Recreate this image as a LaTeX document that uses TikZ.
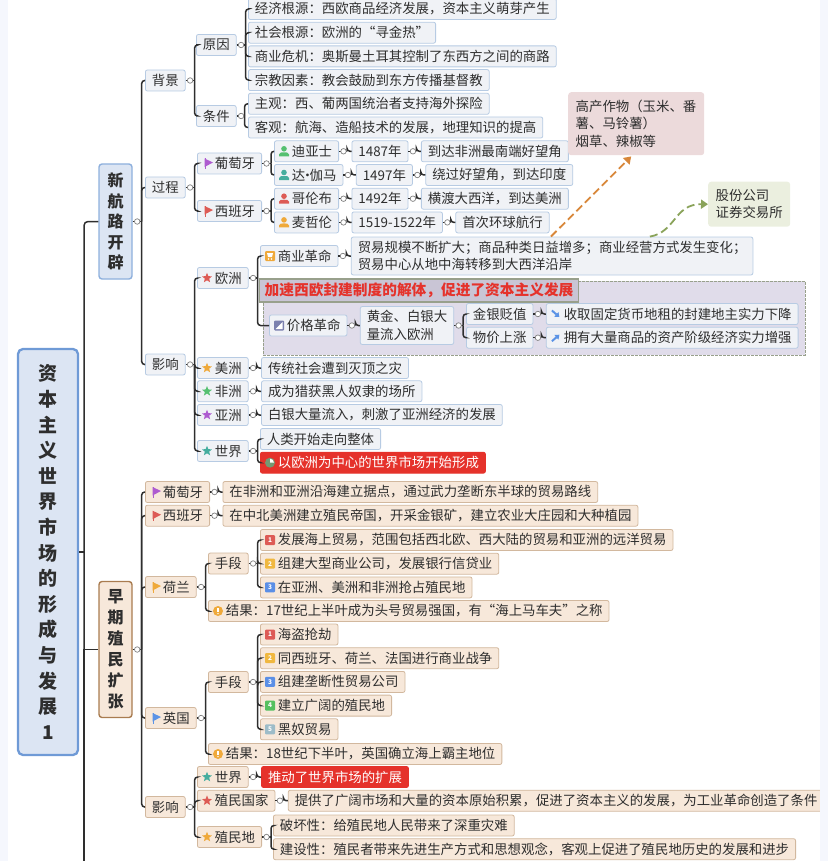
\documentclass[tikz,border=0pt]{standalone}
\usepackage{fontspec}
\setmainfont{Noto Sans CJK SC}
\usetikzlibrary{positioning,calc,arrows.meta,shapes.geometric}

\definecolor{ink}{HTML}{2E2E2E}
\definecolor{gutter}{HTML}{F5F7FD}
\definecolor{linefill}{HTML}{F0F2F6}
\definecolor{lineedge}{HTML}{B7CBE3}
\definecolor{earlyfill}{HTML}{F7E8DA}
\definecolor{earlyedge}{HTML}{D2B89E}
\definecolor{hotred}{HTML}{E5322B}
\definecolor{bandfill}{HTML}{E0DCEA}
\definecolor{bandedge}{HTML}{98A08C}
\definecolor{bandhead}{HTML}{C9C5D5}
\definecolor{rootfill}{HTML}{DCE5F3}
\definecolor{rootedge}{HTML}{6F9AD6}
\definecolor{voyageedge}{HTML}{8EB0DD}
\definecolor{colonyedge}{HTML}{A97C50}
\definecolor{cropsfill}{HTML}{ECDADB}
\definecolor{stockfill}{HTML}{EBEFDF}
\definecolor{cropsarrow}{HTML}{D8873A}
\definecolor{stockarrow}{HTML}{8AA35A}
\definecolor{tagred}{HTML}{DD5B55}
\definecolor{tagorange}{HTML}{EFA93A}
\definecolor{taggreen}{HTML}{55C070}
\definecolor{tagteal}{HTML}{45AD9E}
\definecolor{tagviolet}{HTML}{AE5BD0}
\definecolor{tagblue}{HTML}{5B93E6}
\definecolor{tagslate}{HTML}{7B80AE}
\definecolor{num1}{HTML}{DD5B55}
\definecolor{num2}{HTML}{F0B840}
\definecolor{num3}{HTML}{5B8FE6}
\definecolor{num4}{HTML}{55C060}
\definecolor{num5}{HTML}{9DBCC8}

\tikzset{
  base/.style={font=\fontsize{13.4}{17.5}\selectfont, text=ink, rounded corners=2pt, line width=.8pt,
    minimum height=21pt, inner ysep=0pt, inner xsep=6.5pt, anchor=west},
  topic/.style={base, draw=lineedge, fill=linefill},
  early/.style={base, draw=earlyedge, fill=earlyfill},
  hot/.style={base, draw=hotred, fill=hotred, text=white},
  iconic/.style={execute at begin node={\hspace{11pt}}},
  under/.style={below=1.9pt of #1.south west, anchor=north west},
  next/.style={right=12.5pt of #1},
  link/.style={draw=ink, line width=1.5pt},
  knob/.style={circle, draw=gray, fill=white, inner sep=0pt, minimum size=5.5pt, line width=.7pt},
  callout/.style={font=\fontsize{13.4}{17.5}\selectfont, text=ink, rounded corners=3pt, inner xsep=7.5pt,
    inner ysep=0pt, anchor=north west, align=left},
  flagicon/.pic={\fill[#1] (-2.5,-5) -- (6,-1) -- (-2.5,3.5) -- cycle; \fill[#1] (-2.5,-5) rectangle (-1.3,5.5);},
  staricon/.pic={\node[star, star points=5, star point ratio=2.3, fill=#1, inner sep=0pt, minimum size=10.5pt] {};},
  manicon/.pic={\fill[#1] (0,-2.5) circle (2.8pt);
    \fill[#1] (-5,5) -- (-5,3) .. controls (-5,1) and (-2,1) .. (0,1) .. controls (2,1) and (5,1) .. (5,3) -- (5,5) -- cycle;},
  numicon/.pic={\fill[num#1, rounded corners=1pt] (-5,-5) rectangle (5,5);
    \node[text=white, inner sep=0pt, font=\fontsize{6.5}{7}\selectfont\bfseries] {#1};},
  alerticon/.pic={\fill[tagorange] (0,0) circle (5pt); \fill[white] (-.7,-3.2) rectangle (.7,1); \fill[white] (0,2.6) circle (.8pt);},
  carticon/.pic={\fill[tagorange, rounded corners=1pt] (-5,-5) rectangle (5,5); \fill[white] (-3,-3) -- (3,-3) -- (2,1) -- (-2,1) -- cycle;
    \fill[white] (-1.5,3) circle (.8pt) (1.5,3) circle (.8pt);},
  photoicon/.pic={\fill[#1, rounded corners=1pt] (-5,-5) rectangle (5,5); \fill[white] (-3.5,3.5) -- (3.5,-3.5) -- (3.5,3.5) -- cycle;},
  downicon/.pic={\draw[tagblue, line width=2pt, -{Triangle[length=4pt,width=6pt]}] (-4,-3.5) -- (3.5,3);},
  upicon/.pic={\draw[tagblue, line width=2pt, -{Triangle[length=4pt,width=6pt]}] (-4,3.5) -- (3.5,-3);},
  clockicon/.pic={\fill[white!75!green!60!black] (0,0) circle (5pt); \fill[white] (0,0) -- (0,-4) arc[start angle=-90, end angle=0, radius=4pt, y radius=-4pt] -- cycle;},
}

\newcommand{\branch}[3][9]{
  \draw[link] (#2.east) -- ++(#1,0);
  \foreach \kid in {#3} \draw[link, rounded corners=3pt] ($(#2.east)+(#1,0)$) |- (\kid.west);
  \node[knob] at ($(#2.east)+(4.5,0)$) {};
}
\newcommand{\tagit}[2]{\pic at ($(#1.west)+(10,0)$) {#2};}

\begin{document}
\begin{tikzpicture}[x=1pt,y=-1pt]
  \useasboundingbox (0,0) rectangle (828,861);
  \node[minimum width=60pt, minimum height=406pt, rounded corners=5pt, draw=rootedge, fill=rootfill, line width=2.3pt,
    align=center, text=ink, font=\fontsize{19}{25.6}\selectfont\bfseries] (root) at (48,552)
    {资\\本\\主\\义\\世\\界\\市\\场\\的\\形\\成\\与\\发\\展\\1};
  \node[minimum width=33pt, minimum height=115pt, rounded corners=3pt, draw=voyageedge, fill=rootfill, line width=1.4pt,
    align=center, text=ink, font=\fontsize{16}{20.6}\selectfont\bfseries] (voyage) at (115.5,221.5)
    {新\\航\\路\\开\\辟};
  \node[minimum width=33pt, minimum height=136pt, rounded corners=3pt, draw=colonyedge, fill=earlyfill, line width=1.4pt,
    align=center, text=ink, font=\fontsize{16}{21}\selectfont\bfseries] (colony) at (115.5,649.5)
    {早\\期\\殖\\民\\扩\\张};
  \coordinate (rootend) at (84,861);

  \node[topic] (setting) at (145,80.5) {背景};
  \node[topic] (cause) at (196,45) {原因};
  \node[topic] (terms) at (196,116) {条件};
  \node[topic] (econ) at (248,9) {经济根源：西欧商品经济发展，资本主义萌芽产生};
  \node[topic, under=econ] (social) {社会根源：欧洲的“寻金热”};
  \node[topic, under=social] (trouble) {商业危机：奥斯曼土耳其控制了东西方之间的商路};
  \node[topic, under=trouble] (faith) {宗教因素：教会鼓励到东方传播基督教};
  \node[topic, under=faith] (subject) {主观：西、葡两国统治者支持海外探险};
  \node[topic, under=subject] (object) {客观：航海、造船技术的发展，地理知识的提高};

  \node[topic] (course) at (145,187.5) {过程};
  \node[topic, iconic] (porta) at (197,163.5) {葡萄牙};
  \node[topic, iconic] (spaina) at (197,211) {西班牙};
  \node[topic, iconic] (dias) at (274,151.3) {迪亚士};
  \node[topic, iconic] (gama) at (274,175) {达\kern-4.5pt·\kern-4.5pt伽马};
  \node[topic, iconic] (columbus) at (274,198.7) {哥伦布};
  \node[topic, iconic] (magellan) at (274,222.4) {麦哲伦};
  \node[topic, next=dias] (yeara) {1487年};
  \node[topic, next=gama] (yearb) {1497年};
  \node[topic, next=columbus] (yearc) {1492年};
  \node[topic, next=magellan] (yeard) {1519-1522年};
  \node[topic, next=yeara] (deeda) {到达非洲最南端好望角};
  \node[topic, next=yearb] (deedb) {绕过好望角，到达印度};
  \node[topic, next=yearc] (deedc) {横渡大西洋，到达美洲};
  \node[topic, next=yeard] (deedd) {首次环球航行};

  \node[draw=bandedge, fill=bandfill, dash pattern=on 3pt off 1pt, line width=.9pt, minimum width=542pt, minimum height=74pt, anchor=north west, inner sep=0pt] (band) at (263,281) {};
  \node[base, draw=bandedge, fill=bandhead, line width=1.4pt, minimum height=23pt, inner xsep=5pt, text=hotred, rounded corners=0pt, font=\fontsize{14.7}{17}\selectfont\bfseries] (bandtitle) at (259,290.5) {加速西欧封建制度的解体，促进了资本主义发展};

  \node[topic] (effect) at (145,364.5) {影响};
  \node[topic, iconic] (europe) at (197,278) {欧洲};
  \node[topic, iconic] (commerce) at (260,256) {商业革命};
  \node[topic, align=left, minimum height=38pt, next=commerce] (trade) {贸易规模不断扩大；商品种类日益增多；商业经营方式发生变化；\\贸易中心从地中海转移到大西洋沿岸};
  \node[topic, iconic] (price) at (269,325.5) {价格革命};
  \node[topic, align=left, minimum height=38pt, next=price] (gold) {黄金、白银大\\量流入欧洲};
  \node[topic] (cheap) at (466,314) {金银贬值};
  \node[topic, under=cheap] (dear) {物价上涨};
  \node[topic, iconic, next=cheap] (lords) {收取固定货币地租的封建地主实力下降};
  \node[topic, iconic, next=dear] (bourgeois) {拥有大量商品的资产阶级经济实力增强};
  \node[topic, iconic] (america) at (197,368) {美洲};
  \node[topic, iconic] (africa) at (197,391.3) {非洲};
  \node[topic, iconic] (asia) at (197,415) {亚洲};
  \node[topic, iconic] (world) at (197,451) {世界};
  \node[topic, next=america] (doom) {传统社会遭到灭顶之灾};
  \node[topic, next=africa] (slaves) {成为猎获黑人奴隶的场所};
  \node[topic, next=asia] (silver) {白银大量流入，刺激了亚洲经济的发展};
  \node[topic] (whole) at (260,439) {人类开始走向整体};
  \node[hot, iconic, under=whole] (market) {以欧洲为中心的世界市场开始形成};

  \node[early, iconic] (portb) at (145,492) {葡萄牙};
  \node[early, iconic, under=portb] (spainb) {西班牙};
  \node[early, next=portb] (coast) {在非洲和亚洲沿海建立据点，通过武力垄断东半球的贸易路线};
  \node[early, next=spainb] (mines) {在中北美洲建立殖民帝国，开采金银矿，建立农业大庄园和大种植园};
  \node[early, iconic] (dutch) at (145,587) {荷兰};
  \node[early] (meansa) at (208,563.5) {手段};
  \node[early, iconic] (dutcha) at (260,540) {发展海上贸易，范围包括西北欧、西大陆的贸易和亚洲的远洋贸易};
  \node[early, iconic, under=dutcha] (dutchb) {组建大型商业公司，发展银行信贷业};
  \node[early, iconic, under=dutchb] (dutchc) {在亚洲、美洲和非洲抢占殖民地};
  \node[early, iconic] (resulta) at (208,611) {结果：17世纪上半叶成为头号贸易强国，有“海上马车夫”之称};
  \node[early, iconic] (england) at (145,718) {英国};
  \node[early] (meansb) at (208,682) {手段};
  \node[early, iconic] (engla) at (260,634.5) {海盗抢劫};
  \node[early, iconic, under=engla] (englb) {同西班牙、荷兰、法国进行商业战争};
  \node[early, iconic, under=englb] (englc) {组建垄断性贸易公司};
  \node[early, iconic, under=englc] (engld) {建立广阔的殖民地};
  \node[early, iconic, under=engld] (engle) {黑奴贸易};
  \node[early, iconic] (resultb) at (208,754) {结果：18世纪下半叶，英国确立海上霸主地位};
  \node[early] (impact) at (145,807) {影响};
  \node[early, iconic] (earth) at (197,777) {世界};
  \node[early, iconic, under=earth] (rulers) {殖民国家};
  \node[early, iconic] (ruled) at (197,837) {殖民地};
  \node[hot, next=earth] (spread) {推动了世界市场的扩展};
  \node[early, next=rulers] (capital) {提供了广阔市场和大量的资本原始积累，促进了资本主义的发展，为工业革命创造了条件};
  \node[early] (harm) at (273,825.5) {破坏性：给殖民地人民带来了深重灾难};
  \node[early, under=harm] (gain) {建设性：殖民者带来先进生产方式和思想观念，客观上促进了殖民地历史的发展和进步};

  \node[callout, fill=cropsfill, minimum height=63pt, text width=121pt] (crops) at (568,92) {高产作物（玉米、番\\薯、马铃薯）\\烟草、辣椒等};
  \node[callout, fill=stockfill, minimum height=45pt, text width=67pt] (stock) at (708,181.5) {股份公司\\证券交易所};
  \draw[cropsarrow, line width=1.8pt, dash pattern=on 8pt off 4pt, -{Triangle[length=7pt,width=9pt]}] ($(trade.north west)+(200,0)$) -- ($(crops.south)+(-5,1)$);
  \draw[stockarrow, line width=1.8pt, dash pattern=on 8pt off 4pt, -{Triangle[length=7pt,width=9pt]}] ($(trade.north west)+(299,0)$) .. controls (676,232) and (674,204) .. (stock.west);

  \draw[link] (root.east) -- (root.east -| rootend);
  \draw[link, rounded corners=4pt] (rootend) |- (voyage.west);
  \draw[link] (rootend) |- (colony.west);
  \branch{voyage}{setting,course,effect}
  \branch{colony}{portb,spainb,dutch,england,impact}
  \branch{setting}{cause,terms}
  \branch{cause}{econ,social,trouble,faith}
  \branch[8]{terms}{subject,object}
  \branch{course}{porta,spaina}
  \branch{porta}{dias,gama}
  \branch{spaina}{columbus,magellan}
  \branch[8]{dias}{yeara}
  \branch[8]{gama}{yearb}
  \branch[8]{columbus}{yearc}
  \branch[8]{magellan}{yeard}
  \branch[8]{yeara}{deeda}
  \branch[8]{yearb}{deedb}
  \branch[8]{yearc}{deedc}
  \branch[8]{yeard}{deedd}
  \branch{effect}{europe,america,africa,asia,world}
  \branch{europe}{commerce,price}
  \branch[8]{commerce}{trade}
  \branch[8]{price}{gold}
  \branch{gold}{cheap,dear}
  \branch[8]{cheap}{lords}
  \branch[8]{dear}{bourgeois}
  \branch[8]{america}{doom}
  \branch[8]{africa}{slaves}
  \branch[8]{asia}{silver}
  \branch{world}{whole,market}
  \branch[8]{portb}{coast}
  \branch[8]{spainb}{mines}
  \branch{dutch}{meansa,resulta}
  \branch{meansa}{dutcha,dutchb,dutchc}
  \branch{england}{meansb,resultb}
  \branch{meansb}{engla,englb,englc,engld,engle}
  \branch{impact}{earth,rulers,ruled}
  \branch[8]{earth}{spread}
  \branch[8]{rulers}{capital}
  \branch{ruled}{harm,gain}

  \tagit{porta}{flagicon=tagviolet}
  \tagit{spaina}{flagicon=tagred}
  \tagit{portb}{flagicon=tagviolet}
  \tagit{spainb}{flagicon=tagred}
  \tagit{dutch}{flagicon=tagorange}
  \tagit{england}{flagicon=tagblue}
  \tagit{dias}{manicon=taggreen}
  \tagit{gama}{manicon=tagteal}
  \tagit{columbus}{manicon=tagred}
  \tagit{magellan}{manicon=tagorange}
  \tagit{europe}{staricon=tagred}
  \tagit{america}{staricon=tagorange}
  \tagit{africa}{staricon=taggreen}
  \tagit{asia}{staricon=tagviolet}
  \tagit{world}{staricon=tagteal}
  \tagit{earth}{staricon=tagteal}
  \tagit{rulers}{staricon=tagred}
  \tagit{ruled}{staricon=tagorange}
  \tagit{commerce}{carticon}
  \tagit{price}{photoicon=tagslate}
  \tagit{lords}{downicon}
  \tagit{bourgeois}{upicon}
  \tagit{market}{clockicon}
  \tagit{dutcha}{numicon=1}
  \tagit{dutchb}{numicon=2}
  \tagit{dutchc}{numicon=3}
  \tagit{engla}{numicon=1}
  \tagit{englb}{numicon=2}
  \tagit{englc}{numicon=3}
  \tagit{engld}{numicon=4}
  \tagit{engle}{numicon=5}
  \tagit{resulta}{alerticon}
  \tagit{resultb}{alerticon}

  \fill[gutter] (0,0) rectangle (8,861);
  \fill[gutter] (820,0) rectangle (828,861);
\end{tikzpicture}
\end{document}
